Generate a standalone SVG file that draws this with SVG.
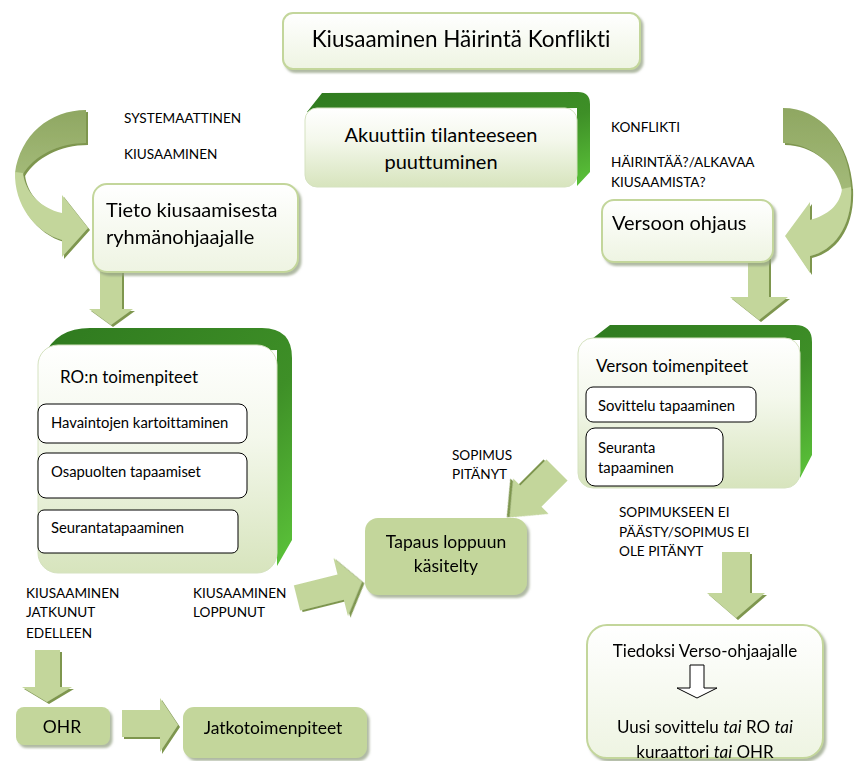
<svg xmlns="http://www.w3.org/2000/svg" width="854" height="761" viewBox="0 0 854 761">
<defs>
<style>
text{font-family:Lato,"Liberation Sans",sans-serif;fill:#000;font-variant-ligatures:none}
.cap{font-size:13.6px}
.box{fill:url(#boxGrad);stroke:#c3d69b;stroke-width:2}
.front{fill:url(#frontGrad);stroke:#d5e2c0;stroke-width:1}
.extr{fill:url(#extrGrad)}
.inner{fill:#fff;stroke:#000;stroke-width:1}
.solid{fill:#c3d69b}
.arrow{fill:#c3d69b;filter:url(#arShadow)}
.darkar{fill:url(#darkGrad);filter:url(#arShadow)}
.sh{filter:url(#boxShadow)}
</style>
<linearGradient id="boxGrad" x1="0" y1="0" x2="0" y2="1"><stop offset="0" stop-color="#ffffff"/><stop offset="1" stop-color="#eef4e2"/></linearGradient>
<linearGradient id="frontGrad" x1="0" y1="0" x2="0" y2="1"><stop offset="0" stop-color="#ffffff"/><stop offset="0.4" stop-color="#f4f8ec"/><stop offset="1" stop-color="#d7e4bd"/></linearGradient>
<linearGradient id="extrGrad" x1="0" y1="0" x2="1" y2="1"><stop offset="0" stop-color="#2f7a1f"/><stop offset="0.6" stop-color="#3e8f27"/><stop offset="1" stop-color="#5cc43a"/></linearGradient>
<linearGradient id="darkGrad" x1="0" y1="0" x2="0" y2="1"><stop offset="0" stop-color="#8fa762"/><stop offset="1" stop-color="#a3ba78"/></linearGradient>
<filter id="boxShadow" x="-10%" y="-10%" width="130%" height="130%"><feDropShadow dx="2.5" dy="3" stdDeviation="1.2" flood-color="#8f9c7e" flood-opacity="0.7"/></filter>
<filter id="arShadow" x="-20%" y="-20%" width="150%" height="150%"><feDropShadow dx="2" dy="2" stdDeviation="0.6" flood-color="#6f8a3a" flood-opacity="0.9"/></filter>
</defs>
<rect width="854" height="761" fill="#fff"/>

<g id="connectors">
<path class="darkar" d="M86,110 C50,110 20,135 15,173 L23,174 C34,156 58,143 86,143 Z"/>
<path class="arrow" d="M15,172 C14,205 35,232 62,240 L62,257 L88,228 L62,195 L62,213 C40,208 25,192 23,173 Z"/>
<path class="darkar" d="M783,108 C820,108 848,140 851,188 L842,190 C836,163 810,143 783,143 Z"/>
<path class="arrow" d="M851,187 C853,225 835,250 810,256 L810,273 L785,236 L810,202 L810,220 C828,215 840,205 842,189 Z"/>
<path class="arrow" d="M100,258 L122,258 L122,309 L133,309 L111,325 L89,309 L100,309 Z"/>
<path class="arrow" d="M748,257 L769,257 L769,297 L788,297 L759,320 L730,297 L748,297 Z"/>
<path class="arrow" d="M722,552 L750,552 L750,593 L765,593 L736,618 L707,593 L722,593 Z"/>
<path class="arrow" d="M35,650 L60,650 L60,687 L72,687 L47,702 L22,687 L35,687 Z"/>
<path class="arrow" d="M122,710 L160,710 L160,698 L178,725 L160,752 L160,737 L122,737 Z"/>
<path class="arrow" transform="translate(297,598) rotate(-14)" d="M0,-13 L45,-13 L45,-30 L67,0 L45,30 L45,13 L0,13 Z"/>
<path class="arrow" transform="translate(557,470) rotate(135)" d="M0,-15 L37,-15 L37,-25 L67,0 L37,25 L37,15 L0,15 Z"/>
</g>

<g id="title" class="sh">
<rect class="box" x="283" y="13" width="357" height="56" rx="10"/>
<text x="461" y="47" font-size="22.5" text-anchor="middle">Kiusaaminen Häirintä Konflikti</text>
</g>

<g id="akuutti">
<path class="extr" d="M307,112 L322,93 L578,92 Q590,92 590,104 L590,172 L577,186 L577,108 Z"/>
<rect class="front" x="305" y="108" width="272" height="79" rx="12"/>
<text x="441" y="142" font-size="20" text-anchor="middle">Akuuttiin tilanteeseen</text>
<text x="441" y="169" font-size="20" text-anchor="middle">puuttuminen</text>
</g>

<g id="label-systematic">
<text class="cap" x="124" y="123">SYSTEMAATTINEN</text>
<text class="cap" x="124" y="159">KIUSAAMINEN</text>
</g>

<g id="label-konflikti">
<text class="cap" x="611" y="132">KONFLIKTI</text>
<text class="cap" x="611" y="167">HÄIRINTÄÄ?/ALKAVAA</text>
<text class="cap" x="611" y="187">KIUSAAMISTA?</text>
</g>

<g id="tieto" class="sh">
<rect class="box" x="93" y="184" width="205" height="88" rx="14"/>
<text x="106" y="217" font-size="20">Tieto kiusaamisesta</text>
<text x="106" y="244" font-size="20">ryhmänohjaajalle</text>
</g>

<g id="versoon" class="sh">
<rect class="box" x="602" y="200" width="171" height="62" rx="12"/>
<text x="612" y="230" font-size="20">Versoon ohjaus</text>
</g>

<g id="ro-toimenpiteet">
<path class="extr" d="M44,356 Q56,328 90,328 L262,328 Q292,328 292,358 L292,540 L277,566 L277,350 Z"/>
<rect class="front" x="38" y="345" width="239" height="228" rx="20"/>
<text x="60" y="383" font-size="17">RO:n toimenpiteet</text>
<rect class="inner" x="38" y="404" width="209" height="39" rx="8"/>
<text x="51" y="428" font-size="14.8">Havaintojen kartoittaminen</text>
<rect class="inner" x="38" y="453" width="209" height="45" rx="8"/>
<text x="51" y="477" font-size="14.8">Osapuolten tapaamiset</text>
<rect class="inner" x="38" y="510" width="200" height="43" rx="6" stroke-width="2.2"/>
<text x="51" y="533" font-size="14.8">Seurantatapaaminen</text>
</g>

<g id="verso-toimenpiteet">
<path class="extr" d="M588,342 L610,325 L795,325 Q812,325 812,342 L812,455 L800,478 L800,340 Z"/>
<rect class="front" x="578" y="338" width="222" height="150" rx="15"/>
<text x="596" y="372" font-size="17">Verson toimenpiteet</text>
<rect class="inner" x="586" y="387" width="170" height="35" rx="7"/>
<text x="598" y="411" font-size="14.8">Sovittelu tapaaminen</text>
<rect class="inner" x="586" y="428" width="137" height="58" rx="9"/>
<text x="598" y="453" font-size="14.8">Seuranta</text>
<text x="598" y="473" font-size="14.8">tapaaminen</text>
</g>

<g id="label-sopimus-pitanyt">
<text class="cap" x="452" y="460">SOPIMUS</text>
<text class="cap" x="452" y="479">PITÄNYT</text>
</g>

<g id="label-ei-pitanyt">
<text class="cap" x="619" y="517">SOPIMUKSEEN EI</text>
<text class="cap" x="619" y="537">PÄÄSTY/SOPIMUS EI</text>
<text class="cap" x="619" y="556">OLE PITÄNYT</text>
</g>

<g id="tapaus" class="sh">
<rect class="solid" x="365" y="518" width="162" height="77" rx="13"/>
<text x="446" y="548" font-size="17.5" text-anchor="middle">Tapaus loppuun</text>
<text x="446" y="572" font-size="17.5" text-anchor="middle">käsitelty</text>
</g>

<g id="label-jatkunut">
<text class="cap" x="26" y="598">KIUSAAMINEN</text>
<text class="cap" x="26" y="617">JATKUNUT</text>
<text class="cap" x="26" y="638">EDELLEEN</text>
</g>

<g id="label-loppunut">
<text class="cap" x="193" y="598">KIUSAAMINEN</text>
<text class="cap" x="193" y="617">LOPPUNUT</text>
</g>

<g id="ohr" class="sh">
<rect class="solid" x="16" y="707" width="94" height="38" rx="8"/>
<text x="62" y="733" font-size="17.5" text-anchor="middle">OHR</text>
</g>

<g id="jatko" class="sh">
<rect class="solid" x="183" y="707" width="184" height="51" rx="11"/>
<text x="273" y="734" font-size="17.5" text-anchor="middle">Jatkotoimenpiteet</text>
</g>

<g id="tiedoksi" class="sh">
<rect class="box" x="587" y="625" width="236" height="133" rx="20"/>
<text x="705" y="657" font-size="17" text-anchor="middle">Tiedoksi Verso-ohjaajalle</text>
<path d="M690,665 L704,665 L704,688 L717,688 L697,698 L677,688 L690,688 Z" fill="#fff" stroke="#000" stroke-width="1"/>
<text x="705" y="733" font-size="17" text-anchor="middle">Uusi sovittelu <tspan font-style="italic">tai</tspan> RO <tspan font-style="italic">tai</tspan></text>
<text x="705" y="758" font-size="17" text-anchor="middle">kuraattori <tspan font-style="italic">tai</tspan> OHR</text>
</g>
</svg>
